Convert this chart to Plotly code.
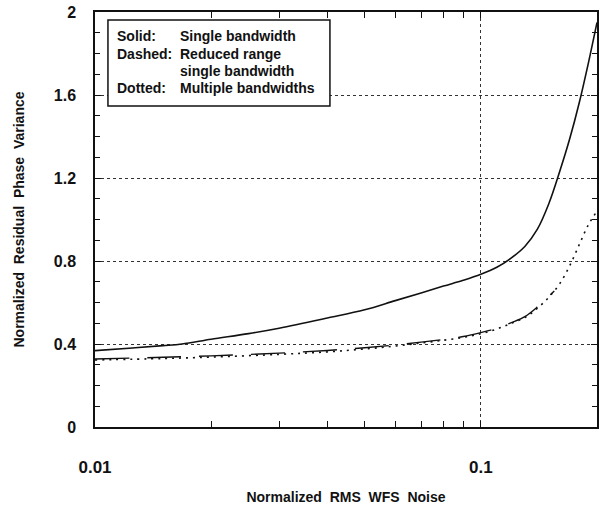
import plotly.graph_objects as go

# ---- data ----
x_solid = [0.01, 0.0125, 0.015, 0.0168, 0.02, 0.025, 0.03, 0.04, 0.05, 0.06, 0.07, 0.08,
           0.09, 0.1, 0.11, 0.12, 0.13, 0.14, 0.15, 0.16, 0.17, 0.18, 0.19, 0.2]
y_solid = [0.368, 0.381, 0.392, 0.400, 0.423, 0.450, 0.476, 0.525, 0.565, 0.609, 0.646, 0.679,
           0.707, 0.736, 0.770, 0.815, 0.870, 0.952, 1.076, 1.230, 1.390, 1.565, 1.755, 1.950]

x_dotted = [0.01, 0.015, 0.02, 0.03, 0.04, 0.05, 0.06, 0.07, 0.08, 0.09, 0.1, 0.11, 0.12,
            0.13, 0.14, 0.15, 0.16, 0.17, 0.18, 0.19, 0.2]
y_dotted = [0.323, 0.330, 0.337, 0.350, 0.362, 0.376, 0.390, 0.405, 0.418, 0.432, 0.450, 0.472,
            0.500, 0.527, 0.572, 0.625, 0.690, 0.778, 0.880, 0.975, 1.040]

x_dashed = [0.01, 0.015, 0.02, 0.03, 0.04, 0.05, 0.06, 0.07, 0.08, 0.09, 0.1, 0.11, 0.12,
            0.13, 0.14, 0.15, 0.155]
y_dashed = [0.328, 0.336, 0.343, 0.356, 0.369, 0.382, 0.395, 0.409, 0.422, 0.436, 0.455, 0.476,
            0.503, 0.532, 0.578, 0.630, 0.655]

x_tickvals = [0.01, 0.1]
x_ticktext = ["0.01", "0.1"]
x_minor = [0.02, 0.03, 0.04, 0.05, 0.06, 0.07, 0.08, 0.09, 0.2]
y_tickvals = [0, 0.4, 0.8, 1.2, 1.6, 2]
y_ticktext = ["0", "0.4", "0.8", "1.2", "1.6", "2"]

legend_labels = ["Solid:", "Dashed:", "", "Dotted:"]
legend_texts = ["Single bandwidth", "Reduced range", "single bandwidth", "Multiple bandwidths"]

FONT = "Liberation Sans, Arial, Helvetica, sans-serif"
NB = "\u00a0"

fig = go.Figure()
fig.add_trace(go.Scatter(x=x_solid, y=y_solid, mode="lines",
                         line=dict(color="#111", width=1.6), line_shape="spline"))
fig.add_trace(go.Scatter(x=x_dashed, y=y_dashed, mode="lines",
                         line=dict(color="#111", width=1.4, dash="34px,18px"), line_shape="spline"))
fig.add_trace(go.Scatter(x=x_dotted, y=y_dotted, mode="lines",
                         line=dict(color="#111", width=1.6, dash="2px,5px"), line_shape="spline"))

fig.update_layout(
    width=600, height=506,
    margin=dict(l=95, r=1, t=12, b=79),
    plot_bgcolor="white", paper_bgcolor="white",
    showlegend=False,
    font=dict(family=FONT, color="#111"),
)

fig.update_xaxes(
    type="log", range=[-2, -0.699],
    tickmode="array", tickvals=x_tickvals, ticktext=x_ticktext,
    ticks="inside", ticklen=6, tickcolor="#111",
    tickfont=dict(size=17, family=FONT, weight="bold"),
    ticklabelstandoff=24,
    showline=True, linecolor="#111", linewidth=1.5, mirror="ticks",
    showgrid=True, gridcolor="#333", griddash="dot", gridwidth=1,
    zeroline=False,
    minor=dict(tickvals=x_minor, ticks="inside", ticklen=6, tickcolor="#111", showgrid=False),
    title=dict(text=f"Normalized{NB}{NB}RMS{NB}{NB}WFS{NB}{NB}Noise",
               font=dict(size=14, family=FONT, weight="bold"), standoff=16),
)

fig.update_yaxes(
    range=[0, 2],
    tickmode="array", tickvals=y_tickvals, ticktext=y_ticktext,
    ticks="inside", ticklen=6, tickcolor="#111",
    tickfont=dict(size=16, family=FONT, weight="bold"),
    ticklabelstandoff=14,
    showline=True, linecolor="#111", linewidth=1.5, mirror="ticks",
    showgrid=True, gridcolor="#333", griddash="dot", gridwidth=1,
    zeroline=False,
    minor=dict(dtick=0.1, ticks="inside", ticklen=5, tickcolor="#111", showgrid=False),
    title=dict(text=f"Normalized{NB}{NB}Residual{NB}{NB}Phase{NB}{NB}Variance",
               font=dict(size=14, family=FONT, weight="bold"), standoff=26),
)

# legend box drawn as a rectangle with text annotations
fig.add_shape(type="rect", xref="paper", yref="paper",
              x0=0.0258, x1=0.468, y0=0.7735, y1=0.981,
              line=dict(color="#111", width=1.5), fillcolor="white", layer="above")

row_y = [0.942, 0.899, 0.858, 0.817]
for lab, txt, yy in zip(legend_labels, legend_texts, row_y):
    if lab:
        fig.add_annotation(x=0.040, y=yy, xref="paper", yref="paper", text=lab,
                           showarrow=False, xanchor="left", yanchor="middle",
                           font=dict(size=14, family=FONT, weight="bold", color="#111"))
    fig.add_annotation(x=0.166, y=yy, xref="paper", yref="paper", text=txt,
                       showarrow=False, xanchor="left", yanchor="middle",
                       font=dict(size=14, family=FONT, weight="bold", color="#111"))

fig.write_html("out.html", config={"displayModeBar": False},
               post_script="document.body.style.margin='0';document.body.style.padding='0';")
